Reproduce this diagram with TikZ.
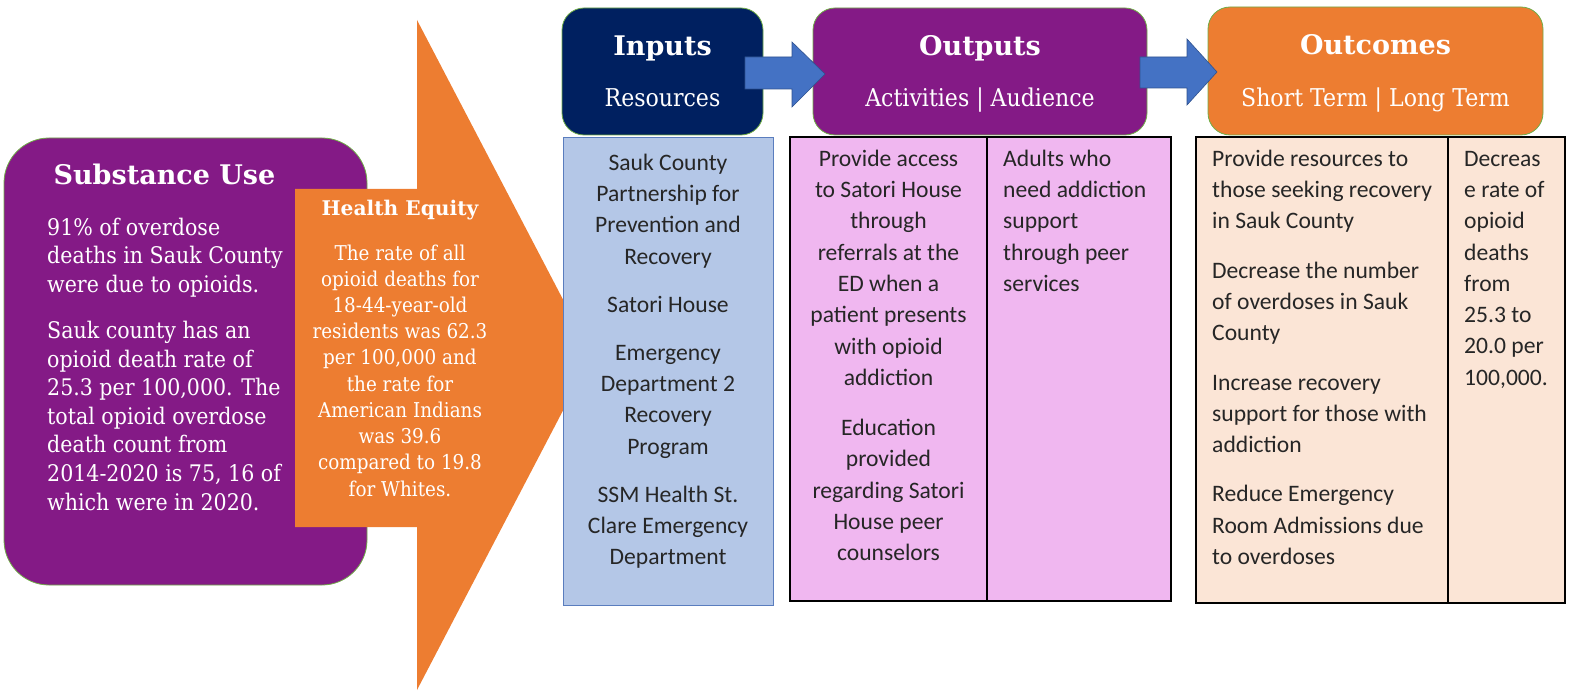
\documentclass[tikz,border=0pt]{standalone}
\usepackage{fontspec}
\setmainfont{DejaVu Serif}
\newfontfamily\bodyserif[FakeStretch=0.9]{DejaVu Serif}
\newfontfamily\titleserif{DejaVu Serif}
\newfontfamily\calib{Carlito}
\definecolor{purp}{RGB}{132,26,134}
\definecolor{navy}{RGB}{0,32,96}
\definecolor{orng}{RGB}{237,125,49}
\definecolor{blu}{RGB}{68,114,196}
\definecolor{bludark}{RGB}{47,82,143}
\definecolor{ltblue}{RGB}{180,199,231}
\definecolor{tblue}{RGB}{90,125,190}
\definecolor{pinkc}{RGB}{240,183,240}
\definecolor{peach}{RGB}{251,229,214}
\definecolor{grn}{RGB}{112,173,71}
\definecolor{txt}{RGB}{38,38,38}
\newcommand\fs[2]{\fontsize{#1}{#2}\selectfont}
\newcommand\tstrut{\rule{0pt}{1em}}
\begin{document}
\begin{tikzpicture}[x=1pt,y=-1pt,
  hdrbox/.style={draw=grn, line width=0.8pt, rounded corners=22pt},
  hdrtitle/.style={anchor=base, inner sep=0, text=white, font=\titleserif\bfseries\fs{27}{30}},
  hdrsub/.style={anchor=base, inner sep=0, text=white, font=\bodyserif\fs{24.5}{28}},
  blockarrow/.style={fill=blu, draw=bludark, line width=0.6pt},
  tabletext/.style={inner sep=0, text=txt, font=\calib\fs{23.6}{31.3}},
  tcenter/.style={tabletext, anchor=north, align=center},
  tleft/.style={tabletext, anchor=north west, align=left},
  tablebox/.style={draw=black, line width=1.6pt}
]
\useasboundingbox (0,0) rectangle (1572,692);

% Substance Use box
\draw[fill=purp, draw=grn, line width=0.8pt, rounded corners=45pt] (4,138) rectangle (367,585);
\node[anchor=base, inner sep=0, text=white, font=\titleserif\bfseries\fs{27}{30}] (sutitle) at (164.5,185) {Substance Use};
\node[anchor=north west, inner sep=0, align=left, text=white, font=\bodyserif\fs{22.85}{28.6}] (subody) at (47,{235-22.85})
 {\tstrut 91\% of overdose\\deaths in Sauk County\\were due to opioids.\\[17.4pt]Sauk county has an\\opioid death rate of\\25.3 per 100,000. The\\total opioid overdose\\death count from\\2014-2020 is 75, 16 of\\which were in 2020.};

% Health equity arrow
\fill[orng] (295,189) -- (417,189) -- (417,20) -- (592,355) -- (417,690) -- (417,527) -- (295,527) -- cycle;
\node[anchor=base, inner sep=0, text=white, font=\titleserif\bfseries\fs{20.2}{24}] (hetitle) at (400,216) {Health Equity};
\node[anchor=north, inner sep=0, align=center, text=white, font=\bodyserif\fs{20.4}{26.2}] (hebody) at (400,{260-20.4})
 {\tstrut The rate of all\\opioid deaths for\\18-44-year-old\\residents was 62.3\\per 100,000 and\\the rate for\\American Indians\\was 39.6\\compared to 19.8\\for Whites.};

% Header boxes
\draw[hdrbox, fill=navy] (562,8) rectangle (763,135);
\draw[hdrbox, fill=purp] (813,8) rectangle (1147,135);
\draw[hdrbox, fill=orng] (1208,7) rectangle (1543,135);

% Block arrows
\draw[blockarrow] (745,57) -- (792,57) -- (792,42) -- (825,74) -- (792,107) -- (792,89) -- (745,89) -- cycle;
\draw[blockarrow] (1140,57) -- (1187,57) -- (1187,39) -- (1217,72) -- (1187,105) -- (1187,88) -- (1140,88) -- cycle;

% Header texts
\node[hdrtitle] (inT) at (662.5,56) {Inputs};
\node[hdrsub] (inS) at (662.5,107) {Resources};
\node[hdrtitle] (outT) at (980,56) {Outputs};
\node[hdrsub] (outS) at (980,107) {Activities | Audience};
\node[hdrtitle] (ocT) at (1375.5,55) {Outcomes};
\node[hdrsub] (ocS) at (1375.5,107) {Short Term | Long Term};

% Resources table
\draw[fill=ltblue, draw=tblue, line width=1pt] (563,138) rectangle (773,605);
\node[tcenter] (res) at (668,{170-23.6})
 {\tstrut Sauk County\\Partnership for\\Prevention and\\Recovery\\[16.7pt]Satori House\\[16.7pt]Emergency\\Department 2\\Recovery\\Program\\[16.7pt]SSM Health St.\\Clare Emergency\\Department};

% Outputs table
\draw[tablebox, fill=pinkc] (790,137) rectangle (1171,601);
\draw[tablebox] (987,137) -- (987,601);
\node[tcenter] (act) at (888.5,{166-23.6})
 {\tstrut Provide access\\to Satori House\\through\\referrals at the\\ED when a\\patient presents\\with opioid\\addiction\\[18.8pt]Education\\provided\\regarding Satori\\House peer\\counselors};
\node[tleft] (aud) at (1003,{166-23.6})
 {\tstrut Adults who\\need addiction\\support\\through peer\\services};

% Outcomes table
\draw[tablebox, fill=peach] (1196,137) rectangle (1565,603);
\draw[tablebox] (1448,137) -- (1448,603);
\node[tleft] (st) at (1212,{166-23.6})
 {\tstrut Provide resources to\\those seeking recovery\\in Sauk County\\[18pt]Decrease the number\\of overdoses in Sauk\\County\\[18pt]Increase recovery\\support for those with\\addiction\\[18pt]Reduce Emergency\\Room Admissions due\\to overdoses};
\node[tleft] (lt) at (1464,{166-23.6})
 {\tstrut Decreas\\e rate of\\opioid\\deaths\\from\\25.3 to\\20.0 per\\100,000.};
\end{tikzpicture}
\end{document}
